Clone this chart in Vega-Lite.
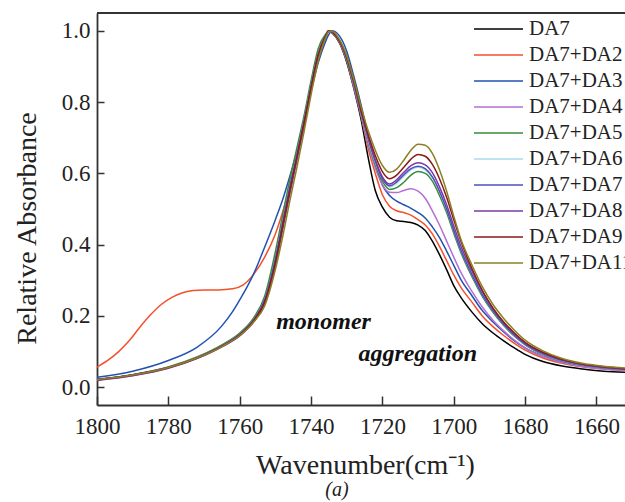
{
"$schema":"https://vega.github.io/schema/vega-lite/v6.json",
"width":528,"height":392,
"autosize":{"type":"none"},
"padding":{"left":97,"top":13,"right":0,"bottom":97},
"background":"white",
"config":{"view":{"stroke":null},"font":"Liberation Serif"},
"title":{"text":"(a)","orient":"bottom","anchor":"middle","dx":-24,"offset":1,"fontSize":20,"font":"Liberation Serif","fontStyle":"italic","fontWeight":"normal","color":"#222"},
"encoding":{
 "x":{"field":"w","type":"quantitative","scale":{"domain":[1652,1800],"reverse":true,"nice":false,"zero":false},
  "axis":{"title":"Wavenumber(cm⁻¹)","values":[1800,1780,1760,1740,1720,1700,1680,1660],"format":"d","grid":false,"tickSize":-9,"tickWidth":1.5,"tickColor":"#333","domainColor":"#333","domainWidth":1.8,"labelFontSize":23,"labelFont":"Liberation Serif","labelColor":"#222","labelPadding":19,"labelFlush":false,"titleFontSize":28,"titleFont":"Liberation Serif","titleFontWeight":"normal","titleColor":"#222","titlePadding":13,"titleX":268}},
 "y":{"field":"a","type":"quantitative","scale":{"domain":[-0.05,1.05],"nice":false,"zero":false},
  "axis":{"title":"Relative Absorbance","values":[0,0.2,0.4,0.6,0.8,1.0],"format":".1f","grid":false,"tickSize":-7,"tickWidth":1.5,"tickColor":"#333","domainColor":"#333","domainWidth":1.8,"labelFontSize":23,"labelFont":"Liberation Serif","labelColor":"#222","labelPadding":14,"titleFontSize":28,"titleFont":"Liberation Serif","titleFontWeight":"normal","titleColor":"#222","titlePadding":20,"titleY":215}}
},
"layer":[
 {"data":{"values":[{"w":1737.6,"w2":1733.4}]},"mark":{"type":"rect","color":"#c6cdd1"},
  "encoding":{"x2":{"field":"w2"},"y":{"datum":1.05},"y2":{"datum":-0.05}}},
 {"data":{"values":[{"w":1715.6,"w2":1707.2}]},"mark":{"type":"rect","color":"#f6c8cd"},
  "encoding":{"x2":{"field":"w2"},"y":{"datum":1.05},"y2":{"datum":-0.05}}},
 {"data":{"values":[{"w":1800,"w2":1652,"a":1.05}]},"mark":{"type":"rule","color":"#333","strokeWidth":1.8},
  "encoding":{"x2":{"field":"w2"}}},
 {"data":{"values":[
{"s":"DA7","w":1800,"a":0.021},{"s":"DA7","w":1790,"a":0.034},{"s":"DA7","w":1780,"a":0.055},{"s":"DA7","w":1772,"a":0.082},{"s":"DA7","w":1765,"a":0.115},{"s":"DA7","w":1760,"a":0.147},{"s":"DA7","w":1756,"a":0.19},{"s":"DA7","w":1753,"a":0.245},{"s":"DA7","w":1750,"a":0.36},{"s":"DA7","w":1748,"a":0.46},{"s":"DA7","w":1746,"a":0.56},{"s":"DA7","w":1744,"a":0.65},{"s":"DA7","w":1742,"a":0.745},{"s":"DA7","w":1740,"a":0.845},{"s":"DA7","w":1738,"a":0.935},{"s":"DA7","w":1736,"a":0.985},{"s":"DA7","w":1735,"a":1.0},{"s":"DA7","w":1734,"a":0.993},{"s":"DA7","w":1732,"a":0.965},{"s":"DA7","w":1730,"a":0.912},{"s":"DA7","w":1728,"a":0.838},{"s":"DA7","w":1726,"a":0.752},{"s":"DA7","w":1724,"a":0.645},{"s":"DA7","w":1722,"a":0.552},{"s":"DA7","w":1720,"a":0.505},{"s":"DA7","w":1718,"a":0.477},{"s":"DA7","w":1716,"a":0.467},{"s":"DA7","w":1714,"a":0.465},{"s":"DA7","w":1712,"a":0.462},{"s":"DA7","w":1710,"a":0.455},{"s":"DA7","w":1708,"a":0.44},{"s":"DA7","w":1706,"a":0.41},{"s":"DA7","w":1704,"a":0.372},{"s":"DA7","w":1702,"a":0.33},{"s":"DA7","w":1700,"a":0.285},{"s":"DA7","w":1698,"a":0.252},{"s":"DA7","w":1695,"a":0.212},{"s":"DA7","w":1692,"a":0.178},{"s":"DA7","w":1689,"a":0.152},{"s":"DA7","w":1686,"a":0.13},{"s":"DA7","w":1683,"a":0.11},{"s":"DA7","w":1680,"a":0.092},{"s":"DA7","w":1675,"a":0.072},{"s":"DA7","w":1670,"a":0.06},{"s":"DA7","w":1664,"a":0.051},{"s":"DA7","w":1658,"a":0.045},{"s":"DA7","w":1652,"a":0.042},
{"s":"DA7+DA2","w":1800,"a":0.056},{"s":"DA7+DA2","w":1797,"a":0.075},{"s":"DA7+DA2","w":1794,"a":0.099},{"s":"DA7+DA2","w":1791,"a":0.13},{"s":"DA7+DA2","w":1788,"a":0.168},{"s":"DA7+DA2","w":1785,"a":0.203},{"s":"DA7+DA2","w":1782,"a":0.232},{"s":"DA7+DA2","w":1779,"a":0.252},{"s":"DA7+DA2","w":1776,"a":0.265},{"s":"DA7+DA2","w":1773,"a":0.271},{"s":"DA7+DA2","w":1770,"a":0.273},{"s":"DA7+DA2","w":1766,"a":0.273},{"s":"DA7+DA2","w":1762,"a":0.276},{"s":"DA7+DA2","w":1759,"a":0.287},{"s":"DA7+DA2","w":1756,"a":0.318},{"s":"DA7+DA2","w":1753,"a":0.365},{"s":"DA7+DA2","w":1750,"a":0.43},{"s":"DA7+DA2","w":1748,"a":0.49},{"s":"DA7+DA2","w":1746,"a":0.565},{"s":"DA7+DA2","w":1744,"a":0.65},{"s":"DA7+DA2","w":1742,"a":0.745},{"s":"DA7+DA2","w":1740,"a":0.845},{"s":"DA7+DA2","w":1738,"a":0.935},{"s":"DA7+DA2","w":1736,"a":0.985},{"s":"DA7+DA2","w":1735,"a":1.0},{"s":"DA7+DA2","w":1734,"a":0.993},{"s":"DA7+DA2","w":1732,"a":0.967},{"s":"DA7+DA2","w":1730,"a":0.917},{"s":"DA7+DA2","w":1728,"a":0.843},{"s":"DA7+DA2","w":1726,"a":0.763},{"s":"DA7+DA2","w":1724,"a":0.67},{"s":"DA7+DA2","w":1722,"a":0.6},{"s":"DA7+DA2","w":1720,"a":0.54},{"s":"DA7+DA2","w":1718,"a":0.508},{"s":"DA7+DA2","w":1716,"a":0.495},{"s":"DA7+DA2","w":1714,"a":0.49},{"s":"DA7+DA2","w":1712,"a":0.483},{"s":"DA7+DA2","w":1710,"a":0.47},{"s":"DA7+DA2","w":1708,"a":0.455},{"s":"DA7+DA2","w":1706,"a":0.43},{"s":"DA7+DA2","w":1704,"a":0.395},{"s":"DA7+DA2","w":1702,"a":0.355},{"s":"DA7+DA2","w":1700,"a":0.315},{"s":"DA7+DA2","w":1698,"a":0.28},{"s":"DA7+DA2","w":1695,"a":0.24},{"s":"DA7+DA2","w":1692,"a":0.2},{"s":"DA7+DA2","w":1689,"a":0.17},{"s":"DA7+DA2","w":1686,"a":0.145},{"s":"DA7+DA2","w":1683,"a":0.123},{"s":"DA7+DA2","w":1680,"a":0.104},{"s":"DA7+DA2","w":1675,"a":0.082},{"s":"DA7+DA2","w":1670,"a":0.068},{"s":"DA7+DA2","w":1664,"a":0.057},{"s":"DA7+DA2","w":1658,"a":0.051},{"s":"DA7+DA2","w":1652,"a":0.047},
{"s":"DA7+DA3","w":1800,"a":0.028},{"s":"DA7+DA3","w":1790,"a":0.045},{"s":"DA7+DA3","w":1780,"a":0.075},{"s":"DA7+DA3","w":1772,"a":0.112},{"s":"DA7+DA3","w":1765,"a":0.172},{"s":"DA7+DA3","w":1762,"a":0.212},{"s":"DA7+DA3","w":1760,"a":0.245},{"s":"DA7+DA3","w":1758,"a":0.28},{"s":"DA7+DA3","w":1756,"a":0.32},{"s":"DA7+DA3","w":1754,"a":0.368},{"s":"DA7+DA3","w":1752,"a":0.418},{"s":"DA7+DA3","w":1750,"a":0.47},{"s":"DA7+DA3","w":1748,"a":0.525},{"s":"DA7+DA3","w":1746,"a":0.59},{"s":"DA7+DA3","w":1744,"a":0.66},{"s":"DA7+DA3","w":1742,"a":0.745},{"s":"DA7+DA3","w":1740,"a":0.83},{"s":"DA7+DA3","w":1738,"a":0.91},{"s":"DA7+DA3","w":1736,"a":0.968},{"s":"DA7+DA3","w":1735,"a":0.99},{"s":"DA7+DA3","w":1734,"a":1.0},{"s":"DA7+DA3","w":1733,"a":0.996},{"s":"DA7+DA3","w":1732,"a":0.985},{"s":"DA7+DA3","w":1730,"a":0.943},{"s":"DA7+DA3","w":1728,"a":0.872},{"s":"DA7+DA3","w":1726,"a":0.793},{"s":"DA7+DA3","w":1724,"a":0.705},{"s":"DA7+DA3","w":1722,"a":0.628},{"s":"DA7+DA3","w":1720,"a":0.567},{"s":"DA7+DA3","w":1718,"a":0.538},{"s":"DA7+DA3","w":1716,"a":0.522},{"s":"DA7+DA3","w":1714,"a":0.512},{"s":"DA7+DA3","w":1712,"a":0.502},{"s":"DA7+DA3","w":1710,"a":0.49},{"s":"DA7+DA3","w":1708,"a":0.475},{"s":"DA7+DA3","w":1706,"a":0.45},{"s":"DA7+DA3","w":1704,"a":0.42},{"s":"DA7+DA3","w":1702,"a":0.382},{"s":"DA7+DA3","w":1700,"a":0.342},{"s":"DA7+DA3","w":1698,"a":0.302},{"s":"DA7+DA3","w":1695,"a":0.258},{"s":"DA7+DA3","w":1692,"a":0.215},{"s":"DA7+DA3","w":1689,"a":0.183},{"s":"DA7+DA3","w":1686,"a":0.155},{"s":"DA7+DA3","w":1683,"a":0.13},{"s":"DA7+DA3","w":1680,"a":0.11},{"s":"DA7+DA3","w":1675,"a":0.087},{"s":"DA7+DA3","w":1670,"a":0.071},{"s":"DA7+DA3","w":1664,"a":0.06},{"s":"DA7+DA3","w":1658,"a":0.053},{"s":"DA7+DA3","w":1652,"a":0.048},
{"s":"DA7+DA4","w":1800,"a":0.02},{"s":"DA7+DA4","w":1790,"a":0.033},{"s":"DA7+DA4","w":1780,"a":0.054},{"s":"DA7+DA4","w":1772,"a":0.081},{"s":"DA7+DA4","w":1765,"a":0.114},{"s":"DA7+DA4","w":1760,"a":0.145},{"s":"DA7+DA4","w":1756,"a":0.187},{"s":"DA7+DA4","w":1753,"a":0.24},{"s":"DA7+DA4","w":1750,"a":0.35},{"s":"DA7+DA4","w":1748,"a":0.45},{"s":"DA7+DA4","w":1746,"a":0.55},{"s":"DA7+DA4","w":1744,"a":0.64},{"s":"DA7+DA4","w":1742,"a":0.738},{"s":"DA7+DA4","w":1740,"a":0.84},{"s":"DA7+DA4","w":1738,"a":0.93},{"s":"DA7+DA4","w":1736,"a":0.983},{"s":"DA7+DA4","w":1735,"a":1.0},{"s":"DA7+DA4","w":1734,"a":0.995},{"s":"DA7+DA4","w":1732,"a":0.968},{"s":"DA7+DA4","w":1730,"a":0.918},{"s":"DA7+DA4","w":1728,"a":0.843},{"s":"DA7+DA4","w":1726,"a":0.763},{"s":"DA7+DA4","w":1724,"a":0.68},{"s":"DA7+DA4","w":1722,"a":0.615},{"s":"DA7+DA4","w":1720,"a":0.568},{"s":"DA7+DA4","w":1718,"a":0.547},{"s":"DA7+DA4","w":1716,"a":0.546},{"s":"DA7+DA4","w":1714,"a":0.552},{"s":"DA7+DA4","w":1712,"a":0.557},{"s":"DA7+DA4","w":1710,"a":0.55},{"s":"DA7+DA4","w":1708,"a":0.53},{"s":"DA7+DA4","w":1706,"a":0.495},{"s":"DA7+DA4","w":1704,"a":0.455},{"s":"DA7+DA4","w":1702,"a":0.41},{"s":"DA7+DA4","w":1700,"a":0.365},{"s":"DA7+DA4","w":1698,"a":0.322},{"s":"DA7+DA4","w":1695,"a":0.27},{"s":"DA7+DA4","w":1692,"a":0.225},{"s":"DA7+DA4","w":1689,"a":0.188},{"s":"DA7+DA4","w":1686,"a":0.158},{"s":"DA7+DA4","w":1683,"a":0.132},{"s":"DA7+DA4","w":1680,"a":0.11},{"s":"DA7+DA4","w":1675,"a":0.086},{"s":"DA7+DA4","w":1670,"a":0.07},{"s":"DA7+DA4","w":1664,"a":0.058},{"s":"DA7+DA4","w":1658,"a":0.051},{"s":"DA7+DA4","w":1652,"a":0.047},
{"s":"DA7+DA5","w":1800,"a":0.02},{"s":"DA7+DA5","w":1790,"a":0.035},{"s":"DA7+DA5","w":1780,"a":0.057},{"s":"DA7+DA5","w":1772,"a":0.085},{"s":"DA7+DA5","w":1765,"a":0.119},{"s":"DA7+DA5","w":1760,"a":0.152},{"s":"DA7+DA5","w":1756,"a":0.196},{"s":"DA7+DA5","w":1753,"a":0.255},{"s":"DA7+DA5","w":1750,"a":0.38},{"s":"DA7+DA5","w":1748,"a":0.48},{"s":"DA7+DA5","w":1746,"a":0.58},{"s":"DA7+DA5","w":1744,"a":0.67},{"s":"DA7+DA5","w":1742,"a":0.76},{"s":"DA7+DA5","w":1740,"a":0.86},{"s":"DA7+DA5","w":1738,"a":0.95},{"s":"DA7+DA5","w":1736,"a":0.99},{"s":"DA7+DA5","w":1735,"a":1.0},{"s":"DA7+DA5","w":1734,"a":0.994},{"s":"DA7+DA5","w":1732,"a":0.968},{"s":"DA7+DA5","w":1730,"a":0.918},{"s":"DA7+DA5","w":1728,"a":0.848},{"s":"DA7+DA5","w":1726,"a":0.768},{"s":"DA7+DA5","w":1724,"a":0.69},{"s":"DA7+DA5","w":1722,"a":0.625},{"s":"DA7+DA5","w":1720,"a":0.578},{"s":"DA7+DA5","w":1718,"a":0.555},{"s":"DA7+DA5","w":1716,"a":0.56},{"s":"DA7+DA5","w":1714,"a":0.575},{"s":"DA7+DA5","w":1712,"a":0.595},{"s":"DA7+DA5","w":1710,"a":0.605},{"s":"DA7+DA5","w":1708,"a":0.6},{"s":"DA7+DA5","w":1706,"a":0.578},{"s":"DA7+DA5","w":1704,"a":0.538},{"s":"DA7+DA5","w":1702,"a":0.49},{"s":"DA7+DA5","w":1700,"a":0.432},{"s":"DA7+DA5","w":1698,"a":0.378},{"s":"DA7+DA5","w":1695,"a":0.312},{"s":"DA7+DA5","w":1692,"a":0.255},{"s":"DA7+DA5","w":1689,"a":0.21},{"s":"DA7+DA5","w":1686,"a":0.173},{"s":"DA7+DA5","w":1683,"a":0.143},{"s":"DA7+DA5","w":1680,"a":0.119},{"s":"DA7+DA5","w":1675,"a":0.092},{"s":"DA7+DA5","w":1670,"a":0.075},{"s":"DA7+DA5","w":1664,"a":0.062},{"s":"DA7+DA5","w":1658,"a":0.054},{"s":"DA7+DA5","w":1652,"a":0.05},
{"s":"DA7+DA6","w":1800,"a":0.021},{"s":"DA7+DA6","w":1790,"a":0.034},{"s":"DA7+DA6","w":1780,"a":0.056},{"s":"DA7+DA6","w":1772,"a":0.083},{"s":"DA7+DA6","w":1765,"a":0.116},{"s":"DA7+DA6","w":1760,"a":0.148},{"s":"DA7+DA6","w":1756,"a":0.19},{"s":"DA7+DA6","w":1753,"a":0.245},{"s":"DA7+DA6","w":1750,"a":0.36},{"s":"DA7+DA6","w":1748,"a":0.46},{"s":"DA7+DA6","w":1746,"a":0.56},{"s":"DA7+DA6","w":1744,"a":0.65},{"s":"DA7+DA6","w":1742,"a":0.745},{"s":"DA7+DA6","w":1740,"a":0.845},{"s":"DA7+DA6","w":1738,"a":0.935},{"s":"DA7+DA6","w":1736,"a":0.985},{"s":"DA7+DA6","w":1735,"a":1.0},{"s":"DA7+DA6","w":1734,"a":0.995},{"s":"DA7+DA6","w":1732,"a":0.97},{"s":"DA7+DA6","w":1730,"a":0.923},{"s":"DA7+DA6","w":1728,"a":0.853},{"s":"DA7+DA6","w":1726,"a":0.773},{"s":"DA7+DA6","w":1724,"a":0.695},{"s":"DA7+DA6","w":1722,"a":0.632},{"s":"DA7+DA6","w":1720,"a":0.585},{"s":"DA7+DA6","w":1718,"a":0.562},{"s":"DA7+DA6","w":1716,"a":0.572},{"s":"DA7+DA6","w":1714,"a":0.592},{"s":"DA7+DA6","w":1712,"a":0.61},{"s":"DA7+DA6","w":1710,"a":0.617},{"s":"DA7+DA6","w":1708,"a":0.61},{"s":"DA7+DA6","w":1706,"a":0.588},{"s":"DA7+DA6","w":1704,"a":0.548},{"s":"DA7+DA6","w":1702,"a":0.5},{"s":"DA7+DA6","w":1700,"a":0.44},{"s":"DA7+DA6","w":1698,"a":0.385},{"s":"DA7+DA6","w":1695,"a":0.318},{"s":"DA7+DA6","w":1692,"a":0.26},{"s":"DA7+DA6","w":1689,"a":0.214},{"s":"DA7+DA6","w":1686,"a":0.176},{"s":"DA7+DA6","w":1683,"a":0.146},{"s":"DA7+DA6","w":1680,"a":0.121},{"s":"DA7+DA6","w":1675,"a":0.094},{"s":"DA7+DA6","w":1670,"a":0.076},{"s":"DA7+DA6","w":1664,"a":0.063},{"s":"DA7+DA6","w":1658,"a":0.055},{"s":"DA7+DA6","w":1652,"a":0.05},
{"s":"DA7+DA7","w":1800,"a":0.022},{"s":"DA7+DA7","w":1790,"a":0.035},{"s":"DA7+DA7","w":1780,"a":0.056},{"s":"DA7+DA7","w":1772,"a":0.083},{"s":"DA7+DA7","w":1765,"a":0.116},{"s":"DA7+DA7","w":1760,"a":0.148},{"s":"DA7+DA7","w":1756,"a":0.19},{"s":"DA7+DA7","w":1753,"a":0.245},{"s":"DA7+DA7","w":1750,"a":0.36},{"s":"DA7+DA7","w":1748,"a":0.46},{"s":"DA7+DA7","w":1746,"a":0.56},{"s":"DA7+DA7","w":1744,"a":0.65},{"s":"DA7+DA7","w":1742,"a":0.745},{"s":"DA7+DA7","w":1740,"a":0.845},{"s":"DA7+DA7","w":1738,"a":0.935},{"s":"DA7+DA7","w":1736,"a":0.985},{"s":"DA7+DA7","w":1735,"a":1.0},{"s":"DA7+DA7","w":1734,"a":0.995},{"s":"DA7+DA7","w":1732,"a":0.97},{"s":"DA7+DA7","w":1730,"a":0.923},{"s":"DA7+DA7","w":1728,"a":0.853},{"s":"DA7+DA7","w":1726,"a":0.773},{"s":"DA7+DA7","w":1724,"a":0.7},{"s":"DA7+DA7","w":1722,"a":0.635},{"s":"DA7+DA7","w":1720,"a":0.585},{"s":"DA7+DA7","w":1718,"a":0.565},{"s":"DA7+DA7","w":1716,"a":0.576},{"s":"DA7+DA7","w":1714,"a":0.596},{"s":"DA7+DA7","w":1712,"a":0.613},{"s":"DA7+DA7","w":1710,"a":0.62},{"s":"DA7+DA7","w":1708,"a":0.613},{"s":"DA7+DA7","w":1706,"a":0.59},{"s":"DA7+DA7","w":1704,"a":0.55},{"s":"DA7+DA7","w":1702,"a":0.5},{"s":"DA7+DA7","w":1700,"a":0.44},{"s":"DA7+DA7","w":1698,"a":0.385},{"s":"DA7+DA7","w":1695,"a":0.318},{"s":"DA7+DA7","w":1692,"a":0.26},{"s":"DA7+DA7","w":1689,"a":0.214},{"s":"DA7+DA7","w":1686,"a":0.176},{"s":"DA7+DA7","w":1683,"a":0.146},{"s":"DA7+DA7","w":1680,"a":0.121},{"s":"DA7+DA7","w":1675,"a":0.094},{"s":"DA7+DA7","w":1670,"a":0.076},{"s":"DA7+DA7","w":1664,"a":0.063},{"s":"DA7+DA7","w":1658,"a":0.055},{"s":"DA7+DA7","w":1652,"a":0.05},
{"s":"DA7+DA8","w":1800,"a":0.019},{"s":"DA7+DA8","w":1790,"a":0.032},{"s":"DA7+DA8","w":1780,"a":0.053},{"s":"DA7+DA8","w":1772,"a":0.08},{"s":"DA7+DA8","w":1765,"a":0.113},{"s":"DA7+DA8","w":1760,"a":0.144},{"s":"DA7+DA8","w":1756,"a":0.184},{"s":"DA7+DA8","w":1753,"a":0.235},{"s":"DA7+DA8","w":1750,"a":0.34},{"s":"DA7+DA8","w":1748,"a":0.44},{"s":"DA7+DA8","w":1746,"a":0.54},{"s":"DA7+DA8","w":1744,"a":0.635},{"s":"DA7+DA8","w":1742,"a":0.73},{"s":"DA7+DA8","w":1740,"a":0.835},{"s":"DA7+DA8","w":1738,"a":0.925},{"s":"DA7+DA8","w":1736,"a":0.98},{"s":"DA7+DA8","w":1735,"a":0.998},{"s":"DA7+DA8","w":1734,"a":0.997},{"s":"DA7+DA8","w":1732,"a":0.972},{"s":"DA7+DA8","w":1730,"a":0.925},{"s":"DA7+DA8","w":1728,"a":0.855},{"s":"DA7+DA8","w":1726,"a":0.775},{"s":"DA7+DA8","w":1724,"a":0.7},{"s":"DA7+DA8","w":1722,"a":0.638},{"s":"DA7+DA8","w":1720,"a":0.59},{"s":"DA7+DA8","w":1718,"a":0.57},{"s":"DA7+DA8","w":1716,"a":0.582},{"s":"DA7+DA8","w":1714,"a":0.603},{"s":"DA7+DA8","w":1712,"a":0.622},{"s":"DA7+DA8","w":1710,"a":0.63},{"s":"DA7+DA8","w":1708,"a":0.624},{"s":"DA7+DA8","w":1706,"a":0.602},{"s":"DA7+DA8","w":1704,"a":0.562},{"s":"DA7+DA8","w":1702,"a":0.512},{"s":"DA7+DA8","w":1700,"a":0.452},{"s":"DA7+DA8","w":1698,"a":0.396},{"s":"DA7+DA8","w":1695,"a":0.328},{"s":"DA7+DA8","w":1692,"a":0.268},{"s":"DA7+DA8","w":1689,"a":0.22},{"s":"DA7+DA8","w":1686,"a":0.181},{"s":"DA7+DA8","w":1683,"a":0.15},{"s":"DA7+DA8","w":1680,"a":0.124},{"s":"DA7+DA8","w":1675,"a":0.096},{"s":"DA7+DA8","w":1670,"a":0.078},{"s":"DA7+DA8","w":1664,"a":0.064},{"s":"DA7+DA8","w":1658,"a":0.056},{"s":"DA7+DA8","w":1652,"a":0.051},
{"s":"DA7+DA9","w":1800,"a":0.021},{"s":"DA7+DA9","w":1790,"a":0.034},{"s":"DA7+DA9","w":1780,"a":0.055},{"s":"DA7+DA9","w":1772,"a":0.082},{"s":"DA7+DA9","w":1765,"a":0.115},{"s":"DA7+DA9","w":1760,"a":0.147},{"s":"DA7+DA9","w":1756,"a":0.188},{"s":"DA7+DA9","w":1753,"a":0.24},{"s":"DA7+DA9","w":1750,"a":0.35},{"s":"DA7+DA9","w":1748,"a":0.45},{"s":"DA7+DA9","w":1746,"a":0.55},{"s":"DA7+DA9","w":1744,"a":0.645},{"s":"DA7+DA9","w":1742,"a":0.74},{"s":"DA7+DA9","w":1740,"a":0.84},{"s":"DA7+DA9","w":1738,"a":0.932},{"s":"DA7+DA9","w":1736,"a":0.984},{"s":"DA7+DA9","w":1735,"a":1.0},{"s":"DA7+DA9","w":1734,"a":0.996},{"s":"DA7+DA9","w":1732,"a":0.972},{"s":"DA7+DA9","w":1730,"a":0.926},{"s":"DA7+DA9","w":1728,"a":0.858},{"s":"DA7+DA9","w":1726,"a":0.778},{"s":"DA7+DA9","w":1724,"a":0.71},{"s":"DA7+DA9","w":1722,"a":0.65},{"s":"DA7+DA9","w":1720,"a":0.605},{"s":"DA7+DA9","w":1718,"a":0.585},{"s":"DA7+DA9","w":1716,"a":0.595},{"s":"DA7+DA9","w":1714,"a":0.617},{"s":"DA7+DA9","w":1712,"a":0.64},{"s":"DA7+DA9","w":1710,"a":0.653},{"s":"DA7+DA9","w":1708,"a":0.648},{"s":"DA7+DA9","w":1706,"a":0.625},{"s":"DA7+DA9","w":1704,"a":0.585},{"s":"DA7+DA9","w":1702,"a":0.533},{"s":"DA7+DA9","w":1700,"a":0.47},{"s":"DA7+DA9","w":1698,"a":0.41},{"s":"DA7+DA9","w":1695,"a":0.335},{"s":"DA7+DA9","w":1692,"a":0.272},{"s":"DA7+DA9","w":1689,"a":0.222},{"s":"DA7+DA9","w":1686,"a":0.183},{"s":"DA7+DA9","w":1683,"a":0.152},{"s":"DA7+DA9","w":1680,"a":0.126},{"s":"DA7+DA9","w":1675,"a":0.098},{"s":"DA7+DA9","w":1670,"a":0.079},{"s":"DA7+DA9","w":1664,"a":0.065},{"s":"DA7+DA9","w":1658,"a":0.057},{"s":"DA7+DA9","w":1652,"a":0.052},
{"s":"DA7+DA11","w":1800,"a":0.021},{"s":"DA7+DA11","w":1790,"a":0.034},{"s":"DA7+DA11","w":1780,"a":0.055},{"s":"DA7+DA11","w":1772,"a":0.082},{"s":"DA7+DA11","w":1765,"a":0.114},{"s":"DA7+DA11","w":1760,"a":0.145},{"s":"DA7+DA11","w":1756,"a":0.184},{"s":"DA7+DA11","w":1753,"a":0.228},{"s":"DA7+DA11","w":1750,"a":0.33},{"s":"DA7+DA11","w":1748,"a":0.42},{"s":"DA7+DA11","w":1746,"a":0.52},{"s":"DA7+DA11","w":1744,"a":0.615},{"s":"DA7+DA11","w":1742,"a":0.715},{"s":"DA7+DA11","w":1740,"a":0.82},{"s":"DA7+DA11","w":1738,"a":0.915},{"s":"DA7+DA11","w":1736,"a":0.978},{"s":"DA7+DA11","w":1735,"a":0.998},{"s":"DA7+DA11","w":1734,"a":0.998},{"s":"DA7+DA11","w":1732,"a":0.975},{"s":"DA7+DA11","w":1730,"a":0.93},{"s":"DA7+DA11","w":1728,"a":0.863},{"s":"DA7+DA11","w":1726,"a":0.788},{"s":"DA7+DA11","w":1724,"a":0.72},{"s":"DA7+DA11","w":1722,"a":0.665},{"s":"DA7+DA11","w":1720,"a":0.622},{"s":"DA7+DA11","w":1718,"a":0.603},{"s":"DA7+DA11","w":1716,"a":0.612},{"s":"DA7+DA11","w":1714,"a":0.637},{"s":"DA7+DA11","w":1712,"a":0.665},{"s":"DA7+DA11","w":1710,"a":0.682},{"s":"DA7+DA11","w":1708,"a":0.679},{"s":"DA7+DA11","w":1706,"a":0.656},{"s":"DA7+DA11","w":1704,"a":0.61},{"s":"DA7+DA11","w":1702,"a":0.55},{"s":"DA7+DA11","w":1700,"a":0.48},{"s":"DA7+DA11","w":1698,"a":0.415},{"s":"DA7+DA11","w":1695,"a":0.345},{"s":"DA7+DA11","w":1692,"a":0.282},{"s":"DA7+DA11","w":1689,"a":0.232},{"s":"DA7+DA11","w":1686,"a":0.193},{"s":"DA7+DA11","w":1683,"a":0.16},{"s":"DA7+DA11","w":1680,"a":0.132},{"s":"DA7+DA11","w":1675,"a":0.102},{"s":"DA7+DA11","w":1670,"a":0.082},{"s":"DA7+DA11","w":1664,"a":0.067},{"s":"DA7+DA11","w":1658,"a":0.059},{"s":"DA7+DA11","w":1652,"a":0.054}
 ]},
 "mark":{"type":"line","interpolate":"monotone","strokeWidth":1.5,"clip":true},
 "encoding":{"color":{"field":"s","type":"nominal",
   "scale":{"domain":["DA7","DA7+DA2","DA7+DA3","DA7+DA4","DA7+DA5","DA7+DA6","DA7+DA7","DA7+DA8","DA7+DA9","DA7+DA11"],
            "range":["#000000","#f4502a","#2152b0","#b46fd4","#3a8a3a","#a8dbe8","#4a50bc","#7b3aa2","#8b1a1a","#8b8020"]},
   "legend":{"orient":"none","legendX":390.5,"legendY":5,"title":null,"padding":0,"symbolType":"M-2.45,0H2.45","symbolSize":400,"symbolStrokeWidth":1.5,"labelFontSize":21,"labelFont":"Liberation Serif","labelColor":"#222","labelOffset":19.5,"rowPadding":5,"labelLimit":0}}}
 },
 {"data":{"values":[{"w":1736.5,"a":0.163,"t":"monomer"},{"w":1710.1,"a":0.074,"t":"aggregation"}]},
  "mark":{"type":"text","font":"Liberation Serif","fontSize":24,"fontWeight":"bold","fontStyle":"italic","color":"#111","align":"center","baseline":"alphabetic"},
  "encoding":{"text":{"field":"t"}}}
]
}
